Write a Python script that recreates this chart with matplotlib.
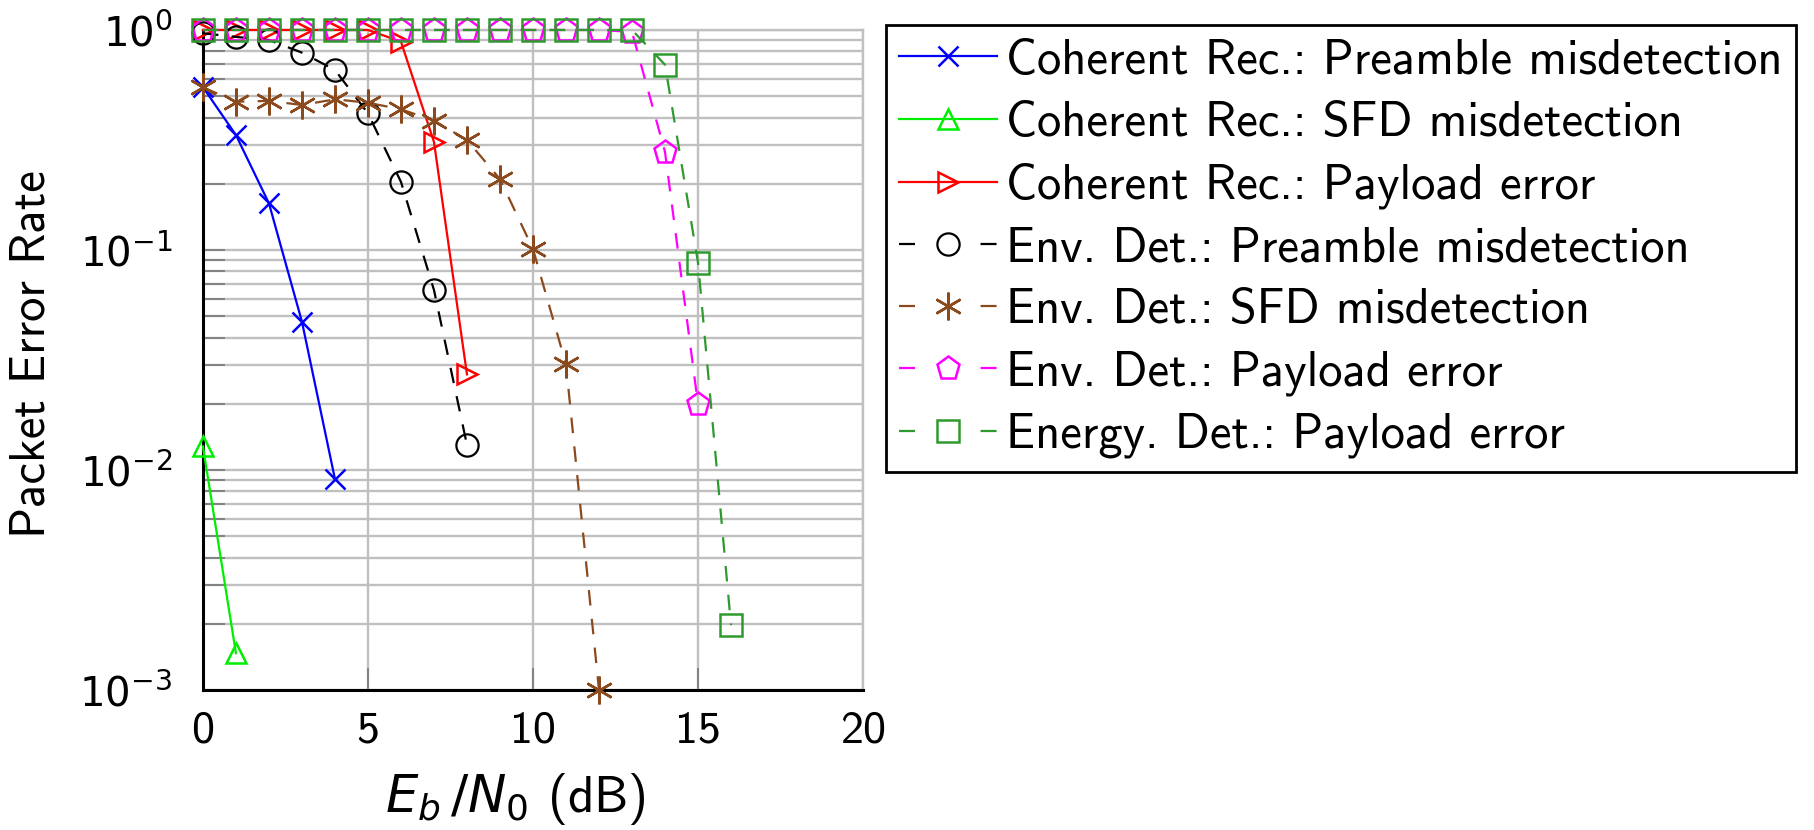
import math
import matplotlib
matplotlib.use('Agg')
import matplotlib.pyplot as plt
from matplotlib.lines import Line2D
from matplotlib.ticker import FixedLocator, FuncFormatter

# --- данные ---
snr_coh_pre = [0, 1, 2, 3, 4]
per_coh_pre = [0.55, 0.333, 0.163, 0.0472, 0.0091]

snr_coh_sfd = [0, 1]
per_coh_sfd = [0.0128, 0.00147]

snr_coh_pay = [0, 1, 2, 3, 4, 5, 6, 7, 8]
per_coh_pay = [1.0, 1.0, 1.0, 1.0, 1.0, 1.0, 0.885, 0.31, 0.0272]

snr_env_pre = [0, 1, 2, 3, 4, 5, 6, 7, 8]
per_env_pre = [0.966, 0.93, 0.90, 0.789, 0.658, 0.418, 0.204, 0.0658, 0.013]

snr_env_sfd = [0, 1, 2, 3, 4, 5, 6, 7, 8, 9, 10, 11, 12]
per_env_sfd = [0.549, 0.472, 0.476, 0.456, 0.484, 0.467, 0.436, 0.387, 0.316,
               0.210, 0.101, 0.0302, 0.001]

snr_env_pay = [0, 1, 2, 3, 4, 5, 6, 7, 8, 9, 10, 11, 12, 13, 14, 15]
per_env_pay = [1.0] * 13 + [0.98, 0.279, 0.0199]

snr_energy_pay = [0, 1, 2, 3, 4, 5, 6, 7, 8, 9, 10, 11, 12, 13, 14, 15, 16]
per_energy_pay = [1.0] * 14 + [0.695, 0.0877, 0.00197]

labels = [
    'Coherent Rec.: Preamble misdetection',
    'Coherent Rec.: SFD misdetection',
    'Coherent Rec.: Payload error',
    'Env. Det.: Preamble misdetection',
    'Env. Det.: SFD misdetection',
    'Env. Det.: Payload error',
    'Energy. Det.: Payload error',
]

x_ticks = [0, 5, 10, 15, 20]
y_decades = [1e-3, 1e-2, 1e-1, 1e0]

plt.rcParams['font.family'] = ['cmss10', 'DejaVu Sans']
plt.rcParams['mathtext.fontset'] = 'dejavusans'
plt.rcParams['axes.unicode_minus'] = False

FS = 35
GRID = '#c0c0c0'
DASH = (0, (7, 6))
DASH_LEG = (0, (7.2, 29.5))  # в легенде виден только штрих слева и справа от маркера

fig = plt.figure(figsize=(18.15, 8.3), dpi=100)
ax = fig.add_axes([0.1118, 0.1687, 0.3637, 0.7952])

series = [
    (snr_coh_pre, per_coh_pre, dict(color='#0000ff', ls='-', marker='x', ms=14, mew=1.8)),
    (snr_coh_sfd, per_coh_sfd, dict(color='#00ee00', ls='-', marker='^', ms=15, mfc='none', mew=1.8)),
    (snr_coh_pay, per_coh_pay, dict(color='#ff0000', ls='-', marker='>', ms=15, mfc='none', mew=1.8)),
    (snr_env_pre, per_env_pre, dict(color='black', ls=DASH, marker='o', ms=16, mfc='none', mew=1.6)),
    (snr_env_sfd, per_env_sfd, dict(color='#8b4a1e', ls=DASH, marker=(6, 2, 0), ms=20, mew=1.8)),
    (snr_env_pay, per_env_pay, dict(color='#ff00ff', ls=DASH, marker='p', ms=17, mfc='none', mew=1.8)),
    (snr_energy_pay, per_energy_pay, dict(color='#2e9a2e', ls=DASH, marker='s', ms=16, mfc='none', mew=1.8)),
]

handles = []
for (x, y, st), lab in zip(series, labels):
    ax.plot(x, y, lw=1.6, clip_on=False, zorder=3, **st)
    hst = dict(st)
    if hst['ls'] != '-':
        hst['ls'] = DASH_LEG
    handles.append(Line2D([], [], lw=1.6, **hst))

ax.set_yscale('log')
ax.set_xlim(0, 20)
ax.set_ylim(1e-3, 1)
ax.set_xticks(x_ticks)
ax.yaxis.set_major_locator(FixedLocator(y_decades))
ax.yaxis.set_major_formatter(FuncFormatter(lambda v, p: r'$10^{%d}$' % round(math.log10(v))))

ax.grid(True, which='major', color=GRID, lw=1.7, zorder=0)
ax.grid(True, which='minor', axis='y', color=GRID, lw=1.7, zorder=0)
ax.set_axisbelow(True)

for s in ['top', 'right']:
    ax.spines[s].set_color(GRID)
    ax.spines[s].set_linewidth(1.7)
for s in ['left', 'bottom']:
    ax.spines[s].set_color('black')
    ax.spines[s].set_linewidth(2.2)

ax.tick_params(axis='both', which='major', direction='in', length=16, width=1.2,
               color='#777777')
ax.tick_params(axis='x', labelsize=33, pad=15)
ax.tick_params(axis='y', labelsize=29, pad=22)
ax.tick_params(axis='y', which='minor', direction='in', length=16, width=1.2,
               color='#777777')
ax.tick_params(top=False, right=False, which='both')

ax.set_xlabel(r'$E_b\,/N_0$ (dB)', fontsize=37, va='center', ha='right')
ax.xaxis.set_label_coords(0.671, -0.165)
ax.set_ylabel('Packet Error Rate', fontsize=FS, va='center')
ax.yaxis.set_label_coords(-0.259, 0.509)

leg = ax.legend(handles, labels, loc='upper left', bbox_to_anchor=(0.488, 0.970),
                bbox_transform=fig.transFigure, fontsize=FS, frameon=True,
                fancybox=False, framealpha=1, edgecolor='black',
                handlelength=2.0, handletextpad=0.2, labelspacing=0.35,
                borderpad=0.28, borderaxespad=0)
leg.get_frame().set_linewidth(2.0)

plt.savefig('out.png', dpi=100)
